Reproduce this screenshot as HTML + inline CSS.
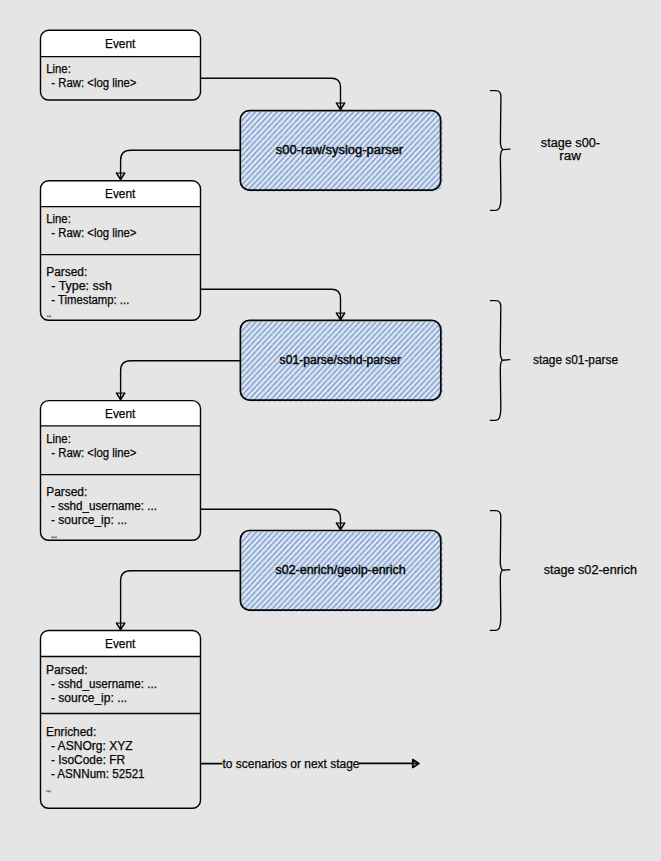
<!DOCTYPE html>
<html><head><meta charset="utf-8"><style>
html,body{margin:0;padding:0;width:661px;height:861px;overflow:hidden;background:#e5e5e5;}
</style></head><body>
<svg width="661" height="861" viewBox="0 0 661 861" style="position:absolute;left:0;top:0" font-family='"Liberation Sans", sans-serif' fill="#050505" stroke-width="0">
<defs><pattern id="hatch" patternUnits="userSpaceOnUse" width="5.45" height="5.85">
<line x1="0" y1="5.85" x2="5.45" y2="0" stroke="#6298e8" stroke-width="1.3"/>
<line x1="-5.45" y1="5.85" x2="0" y2="0" stroke="#6298e8" stroke-width="1.3"/>
<line x1="5.45" y1="5.85" x2="10.9" y2="0" stroke="#6298e8" stroke-width="1.3"/>
</pattern></defs>
<path d="M40.5,56.6 V38.3 Q40.5,30.3 48.5,30.3 H192.5 Q200.5,30.3 200.5,38.3 V56.6 Z" fill="#ffffff"/>
<rect x="40.5" y="30.3" width="160.0" height="69.7" rx="8" fill="none" stroke="#050505" stroke-width="1.4"/>
<line x1="40.5" y1="56.6" x2="200.5" y2="56.6" stroke="#050505" stroke-width="1.3"/>
<text x="120.2" y="47.8" font-size="12" text-anchor="middle" textLength="30.3" lengthAdjust="spacingAndGlyphs" stroke="#050505" stroke-width="0.25">Event</text>
<text x="46.3" y="73.2" font-size="12" text-anchor="start" textLength="24.5" lengthAdjust="spacingAndGlyphs" stroke="#050505" stroke-width="0.25">Line:</text>
<text x="51.3" y="87.3" font-size="12" text-anchor="start" textLength="85.2" lengthAdjust="spacingAndGlyphs" stroke="#050505" stroke-width="0.25">- Raw: &lt;log line&gt;</text>
<rect x="241.3" y="111.7" width="201.3" height="79.89999999999999" rx="9" fill="url(#hatch)" stroke="none"/>
<rect x="240.3" y="110.7" width="200.3" height="79.39999999999999" rx="9" fill="none" stroke="#050505" stroke-width="1.7"/>
<text x="275.8" y="154.1" font-size="12" text-anchor="start" textLength="127.4" lengthAdjust="spacingAndGlyphs" stroke="#050505" stroke-width="0.4">s00-raw/syslog-parser</text>
<path d="M200.5,78.3 H331.5 Q340.5,78.3 340.5,87.3 V109.5" fill="none" stroke="#050505" stroke-width="1.4"/>
<path d="M336.4,103.1 L340.5,109.5 L344.6,103.1" fill="none" stroke="#050505" stroke-width="1.6" stroke-linejoin="round" stroke-linecap="round"/>
<path d="M336.4,103.1 L344.6,103.1" fill="none" stroke="#050505" stroke-width="1.1"/>
<path d="M240.3,150.3 H130.6 Q120.6,150.3 120.6,160.3 V179.5" fill="none" stroke="#050505" stroke-width="1.4"/>
<path d="M116.5,173.1 L120.6,179.5 L124.69999999999999,173.1" fill="none" stroke="#050505" stroke-width="1.6" stroke-linejoin="round" stroke-linecap="round"/>
<path d="M116.5,173.1 L124.69999999999999,173.1" fill="none" stroke="#050505" stroke-width="1.1"/>
<path d="M40.5,206.6 V188.8 Q40.5,180.8 48.5,180.8 H192.5 Q200.5,180.8 200.5,188.8 V206.6 Z" fill="#ffffff"/>
<rect x="40.5" y="180.8" width="160.0" height="139.5" rx="8" fill="none" stroke="#050505" stroke-width="1.4"/>
<line x1="40.5" y1="206.6" x2="200.5" y2="206.6" stroke="#050505" stroke-width="1.3"/>
<line x1="40.5" y1="254.7" x2="200.5" y2="254.7" stroke="#050505" stroke-width="1.3"/>
<text x="120.2" y="198.3" font-size="12" text-anchor="middle" textLength="30.3" lengthAdjust="spacingAndGlyphs" stroke="#050505" stroke-width="0.25">Event</text>
<text x="46.3" y="223.4" font-size="12" text-anchor="start" textLength="24.5" lengthAdjust="spacingAndGlyphs" stroke="#050505" stroke-width="0.25">Line:</text>
<text x="51.3" y="237.4" font-size="12" text-anchor="start" textLength="85.2" lengthAdjust="spacingAndGlyphs" stroke="#050505" stroke-width="0.25">- Raw: &lt;log line&gt;</text>
<text x="46.3" y="275.6" font-size="12" text-anchor="start" textLength="41" lengthAdjust="spacingAndGlyphs" stroke="#050505" stroke-width="0.25">Parsed:</text>
<text x="51.3" y="289.8" font-size="12" text-anchor="start" textLength="60.6" lengthAdjust="spacingAndGlyphs" stroke="#050505" stroke-width="0.25">- Type: ssh</text>
<text x="51.3" y="303.6" font-size="12" text-anchor="start" textLength="78" lengthAdjust="spacingAndGlyphs" stroke="#050505" stroke-width="0.25">- Timestamp: ...</text>
<text x="46.7" y="317.4" font-size="12" text-anchor="start" textLength="4.6" lengthAdjust="spacingAndGlyphs" stroke="#050505" stroke-width="0.25">...</text>
<text x="46.3" y="495.6" font-size="12" text-anchor="start" textLength="41" lengthAdjust="spacingAndGlyphs" stroke="#050505" stroke-width="0.25">Parsed:</text>
<rect x="241.4" y="321.4" width="201.4" height="80.20000000000005" rx="9" fill="url(#hatch)" stroke="none"/>
<rect x="240.4" y="320.4" width="200.4" height="79.70000000000005" rx="9" fill="none" stroke="#050505" stroke-width="1.7"/>
<text x="279.6" y="363.7" font-size="12" text-anchor="start" textLength="121.4" lengthAdjust="spacingAndGlyphs" stroke="#050505" stroke-width="0.4">s01-parse/sshd-parser</text>
<path d="M200.5,289.2 H331.5 Q340.5,289.2 340.5,298.2 V319.5" fill="none" stroke="#050505" stroke-width="1.4"/>
<path d="M336.4,313.1 L340.5,319.5 L344.6,313.1" fill="none" stroke="#050505" stroke-width="1.6" stroke-linejoin="round" stroke-linecap="round"/>
<path d="M336.4,313.1 L344.6,313.1" fill="none" stroke="#050505" stroke-width="1.1"/>
<path d="M240.4,360.8 H130.6 Q120.6,360.8 120.6,370.8 V399.5" fill="none" stroke="#050505" stroke-width="1.4"/>
<path d="M116.5,393.1 L120.6,399.5 L124.69999999999999,393.1" fill="none" stroke="#050505" stroke-width="1.6" stroke-linejoin="round" stroke-linecap="round"/>
<path d="M116.5,393.1 L124.69999999999999,393.1" fill="none" stroke="#050505" stroke-width="1.1"/>
<path d="M40.5,425.9 V408.6 Q40.5,400.6 48.5,400.6 H192.5 Q200.5,400.6 200.5,408.6 V425.9 Z" fill="#ffffff"/>
<rect x="40.5" y="400.6" width="160.0" height="139.69999999999993" rx="8" fill="none" stroke="#050505" stroke-width="1.4"/>
<line x1="40.5" y1="425.9" x2="200.5" y2="425.9" stroke="#050505" stroke-width="1.3"/>
<line x1="40.5" y1="474.7" x2="200.5" y2="474.7" stroke="#050505" stroke-width="1.3"/>
<text x="120.2" y="418.1" font-size="12" text-anchor="middle" textLength="30.3" lengthAdjust="spacingAndGlyphs" stroke="#050505" stroke-width="0.25">Event</text>
<text x="46.3" y="443.4" font-size="12" text-anchor="start" textLength="24.5" lengthAdjust="spacingAndGlyphs" stroke="#050505" stroke-width="0.25">Line:</text>
<text x="51.3" y="457.4" font-size="12" text-anchor="start" textLength="85.2" lengthAdjust="spacingAndGlyphs" stroke="#050505" stroke-width="0.25">- Raw: &lt;log line&gt;</text>
<text x="50.9" y="510.2" font-size="12" text-anchor="start" textLength="106" lengthAdjust="spacingAndGlyphs" stroke="#050505" stroke-width="0.25">- sshd_username: ...</text>
<text x="50.9" y="524.2" font-size="12" text-anchor="start" textLength="76.3" lengthAdjust="spacingAndGlyphs" stroke="#050505" stroke-width="0.25">- source_ip: ...</text>
<text x="50.9" y="538.1" font-size="12" text-anchor="start" textLength="6" lengthAdjust="spacingAndGlyphs" stroke="#050505" stroke-width="0.25">...</text>
<rect x="241.4" y="531.5" width="201.4" height="80.10000000000002" rx="9" fill="url(#hatch)" stroke="none"/>
<rect x="240.4" y="530.5" width="200.4" height="79.60000000000002" rx="9" fill="none" stroke="#050505" stroke-width="1.7"/>
<text x="275.5" y="573.8" font-size="12" text-anchor="start" textLength="130.2" lengthAdjust="spacingAndGlyphs" stroke="#050505" stroke-width="0.4">s02-enrich/geoip-enrich</text>
<path d="M200.5,509.2 H331.5 Q340.5,509.2 340.5,518.2 V529.5" fill="none" stroke="#050505" stroke-width="1.4"/>
<path d="M336.4,523.1 L340.5,529.5 L344.6,523.1" fill="none" stroke="#050505" stroke-width="1.6" stroke-linejoin="round" stroke-linecap="round"/>
<path d="M336.4,523.1 L344.6,523.1" fill="none" stroke="#050505" stroke-width="1.1"/>
<path d="M240.4,570.7 H130.6 Q120.6,570.7 120.6,580.7 V629.5" fill="none" stroke="#050505" stroke-width="1.4"/>
<path d="M116.5,623.1 L120.6,629.5 L124.69999999999999,623.1" fill="none" stroke="#050505" stroke-width="1.6" stroke-linejoin="round" stroke-linecap="round"/>
<path d="M116.5,623.1 L124.69999999999999,623.1" fill="none" stroke="#050505" stroke-width="1.1"/>
<path d="M40.5,656.5 V638.5 Q40.5,630.5 48.5,630.5 H192.5 Q200.5,630.5 200.5,638.5 V656.5 Z" fill="#ffffff"/>
<rect x="40.5" y="630.5" width="160.0" height="177.79999999999995" rx="8" fill="none" stroke="#050505" stroke-width="1.4"/>
<line x1="40.5" y1="656.5" x2="200.5" y2="656.5" stroke="#050505" stroke-width="1.3"/>
<line x1="40.5" y1="713.5" x2="200.5" y2="713.5" stroke="#050505" stroke-width="1.3"/>
<text x="120.2" y="648.0" font-size="12" text-anchor="middle" textLength="30.3" lengthAdjust="spacingAndGlyphs" stroke="#050505" stroke-width="0.25">Event</text>
<text x="46" y="674.1" font-size="12" text-anchor="start" textLength="41.7" lengthAdjust="spacingAndGlyphs" stroke="#050505" stroke-width="0.25">Parsed:</text>
<text x="50.9" y="688.4" font-size="12" text-anchor="start" textLength="106" lengthAdjust="spacingAndGlyphs" stroke="#050505" stroke-width="0.25">- sshd_username: ...</text>
<text x="50.9" y="702.0" font-size="12" text-anchor="start" textLength="76.3" lengthAdjust="spacingAndGlyphs" stroke="#050505" stroke-width="0.25">- source_ip: ...</text>
<text x="46" y="736.1" font-size="12" text-anchor="start" textLength="50.2" lengthAdjust="spacingAndGlyphs" stroke="#050505" stroke-width="0.25">Enriched:</text>
<text x="50.9" y="749.6" font-size="12" text-anchor="start" textLength="81.8" lengthAdjust="spacingAndGlyphs" stroke="#050505" stroke-width="0.25">- ASNOrg: XYZ</text>
<text x="50.9" y="763.6" font-size="12" text-anchor="start" textLength="74.3" lengthAdjust="spacingAndGlyphs" stroke="#050505" stroke-width="0.25">- IsoCode: FR</text>
<text x="50.9" y="778.0" font-size="12" text-anchor="start" textLength="93.7" lengthAdjust="spacingAndGlyphs" stroke="#050505" stroke-width="0.25">- ASNNum: 52521</text>
<text x="46" y="792" font-size="12" text-anchor="start" textLength="5" lengthAdjust="spacingAndGlyphs" stroke="#050505" stroke-width="0.25">...</text>
<path d="M200.5,763.6 H222.5 M359,763.4 H418" fill="none" stroke="#050505" stroke-width="1.9"/>
<path d="M412.8,759.6 L418.8,763.5 L412.8,767.4 Z" fill="none" stroke="#050505" stroke-width="1.8" stroke-linejoin="round"/>
<text x="222.5" y="767.7" font-size="12" text-anchor="start" textLength="137" lengthAdjust="spacingAndGlyphs" stroke="#050505" stroke-width="0.25">to scenarios or next stage</text>
<path d="M490.4,90.6 H495.9 Q500.9,90.6 500.9,96.6 L500.4,140.6 Q500.4,148.6 502.9,149.6 L509.9,149.1 M502.9,149.6 Q500.4,150.6 500.4,158.6 L500.9,198.4 Q500.9,210.4 495.9,210.4 H490.4" fill="none" stroke="#050505" stroke-width="1.35" stroke-linecap="round"/>
<text x="540.8" y="147" font-size="12" text-anchor="start" textLength="59.2" lengthAdjust="spacingAndGlyphs" stroke="#050505" stroke-width="0.25">stage s00-</text>
<text x="559.2" y="159.8" font-size="12" text-anchor="start" textLength="21.7" lengthAdjust="spacingAndGlyphs" stroke="#050505" stroke-width="0.25">raw</text>
<path d="M490.3,300.6 H495.8 Q500.8,300.6 500.8,306.6 L500.3,351.2 Q500.3,359.2 502.8,360.2 L509.8,359.7 M502.8,360.2 Q500.3,361.2 500.3,369.2 L500.8,408.4 Q500.8,420.4 495.8,420.4 H490.3" fill="none" stroke="#050505" stroke-width="1.35" stroke-linecap="round"/>
<text x="533" y="363.7" font-size="12" text-anchor="start" textLength="85" lengthAdjust="spacingAndGlyphs" stroke="#050505" stroke-width="0.25">stage s01-parse</text>
<path d="M490.3,510.6 H495.8 Q500.8,510.6 500.8,516.6 L500.3,561.2 Q500.3,569.2 502.8,570.2 L509.8,569.7 M502.8,570.2 Q500.3,571.2 500.3,579.2 L500.8,618.4 Q500.8,630.4 495.8,630.4 H490.3" fill="none" stroke="#050505" stroke-width="1.35" stroke-linecap="round"/>
<text x="543.7" y="573.7" font-size="12" text-anchor="start" textLength="93.3" lengthAdjust="spacingAndGlyphs" stroke="#050505" stroke-width="0.25">stage s02-enrich</text>
</svg>
</body></html>
